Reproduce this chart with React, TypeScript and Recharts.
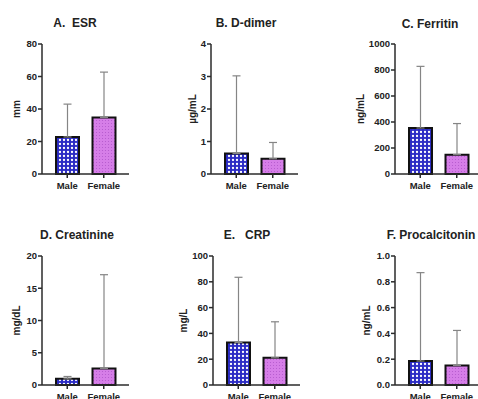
import React from "react"
import { BarChart, Bar, XAxis, YAxis, ErrorBar, Cell } from "recharts"

// values (mean and upper end of the error bar)
const groups = ["Male", "Female"]

const esrMean = [22.8, 34.8]
const esrUpper = [43, 62.7]
const esrTicks = [0, 20, 40, 60, 80]

const ddimerMean = [0.63, 0.47]
const ddimerUpper = [3.02, 0.97]
const ddimerTicks = [0, 1, 2, 3, 4]

const ferritinMean = [354, 149]
const ferritinUpper = [828, 388]
const ferritinTicks = [0, 200, 400, 600, 800, 1000]

const creatinineMean = [0.95, 2.55]
const creatinineUpper = [1.32, 17.1]
const creatinineTicks = [0, 5, 10, 15, 20]

const crpMean = [33, 21.1]
const crpUpper = [83.5, 49]
const crpTicks = [0, 20, 40, 60, 80, 100]

const pctMean = [0.186, 0.152]
const pctUpper = [0.871, 0.423]
const pctTicks = [0, 0.2, 0.4, 0.6, 0.8, 1.0]

const titles = ["A.  ESR", "B. D-dimer", "C. Ferritin", "D. Creatinine", "E.   CRP", "F. Procalcitonin"]
const units = ["mm", "µg/mL", "ng/mL", "mg/dL", "mg/L", "ng/mL"]

const FONT = "'Liberation Sans', Arial, sans-serif"
const AXIS = "#2b2b2b"
const Y_W = 40
const X_H = 28
const TOP_PAD = 6

type PanelProps = {
  id: string
  mean: number[]
  upper: number[]
  ticks: number[]
  decimals: number
  axisX: number
  plotTop: number
  zeroY: number
}

function Panel({ id, mean, upper, ticks, decimals, axisX, plotTop, zeroY }: PanelProps) {
  const data = groups.map((g, i) => ({
    group: g,
    mean: mean[i],
    err: [0, upper[i] - mean[i]],
  }))
  const plotH = zeroY - plotTop
  const width = Y_W + 87 + 4
  const height = plotH + TOP_PAD + X_H
  const tickStyle = { fill: "#222", fontSize: 9.5, fontWeight: 700, fontFamily: FONT }
  const line = { stroke: AXIS, strokeWidth: 1.5 }

  return (
    <div style={{ position: "absolute", left: axisX - Y_W, top: plotTop - TOP_PAD }}>
      <BarChart width={width} height={height} data={data} margin={{ top: TOP_PAD, right: 4, bottom: 0, left: 0 }}>
        <defs>
          <pattern id={`male-${id}`} width="4" height="4" patternUnits="userSpaceOnUse">
            <rect width="4" height="4" fill="#2a2ac4" />
            <circle cx="2" cy="2" r="1.15" fill="#ffffff" />
          </pattern>
          <pattern id={`female-${id}`} width="3" height="3" patternUnits="userSpaceOnUse">
            <rect width="3" height="3" fill="#d67ee8" />
            <circle cx="1.5" cy="1.5" r="0.55" fill="#b357cc" />
          </pattern>
        </defs>
        <XAxis
          xAxisId="main"
          dataKey="group"
          height={X_H}
          padding={{ left: 7, right: 7 }}
          axisLine={line}
          tickLine={line}
          tickSize={4}
          tickMargin={4}
          tick={tickStyle}
          interval={0}
        />
        <XAxis xAxisId="err" dataKey="group" orientation="top" hide padding={{ left: 7, right: 7 }} />
        <YAxis
          width={Y_W}
          domain={[0, ticks[ticks.length - 1]]}
          ticks={ticks}
          interval={0}
          axisLine={line}
          tickLine={line}
          tickSize={4}
          tickMargin={1}
          tick={tickStyle}
          tickFormatter={(v: number) => v.toFixed(decimals)}
        />
        {/* drawn first so the bar covers the lower end of the whisker */}
        <Bar xAxisId="err" dataKey="mean" barSize={23} fill="transparent" isAnimationActive={false}>
          <ErrorBar dataKey="err" width={4} stroke="#858585" strokeWidth={1.2} direction="y" />
        </Bar>
        <Bar xAxisId="main" dataKey="mean" barSize={23} stroke="#111" strokeWidth={2} isAnimationActive={false}>
          {data.map((d, i) => (
            <Cell key={d.group} fill={i === 0 ? `url(#male-${id})` : `url(#female-${id})`} />
          ))}
        </Bar>
      </BarChart>
    </div>
  )
}

// per panel: axis x, label x, title centre
const axisXs = [42, 211, 395, 42, 213, 395]
const labelXs = [16, 192, 360, 16, 183, 366]
const titleXs = [75, 246, 430, 77, 247, 431]
const rowTop = [44, 44, 44, 256, 256, 256]
const rowZero = [174, 174, 174, 385, 385, 385]
const titleYs = [27, 27, 28, 239, 239, 239]

export default function App() {
  const means = [esrMean, ddimerMean, ferritinMean, creatinineMean, crpMean, pctMean]
  const uppers = [esrUpper, ddimerUpper, ferritinUpper, creatinineUpper, crpUpper, pctUpper]
  const tickSets = [esrTicks, ddimerTicks, ferritinTicks, creatinineTicks, crpTicks, pctTicks]
  const decimals = [0, 0, 0, 0, 0, 1]

  return (
    <div
      style={{
        position: "absolute",
        left: 0,
        top: 0,
        width: 478,
        height: 399,
        overflow: "hidden",
        background: "#fff",
        fontFamily: FONT,
      }}
    >
      {means.map((m, i) => (
        <Panel
          key={i}
          id={String(i)}
          mean={m}
          upper={uppers[i]}
          ticks={tickSets[i]}
          decimals={decimals[i]}
          axisX={axisXs[i]}
          plotTop={rowTop[i]}
          zeroY={rowZero[i]}
        />
      ))}
      <svg width={478} height={399} style={{ position: "absolute", left: 0, top: 0, pointerEvents: "none" }}>
        {titles.map((t, i) => (
          <text
            key={t}
            x={titleXs[i]}
            y={titleYs[i]}
            textAnchor="middle"
            fontSize={12}
            fontWeight={700}
            fill="#222"
            style={{ whiteSpace: "pre", fontFamily: FONT }}
          >
            {t}
          </text>
        ))}
        {units.map((u, i) => {
          const cy = (rowTop[i] + rowZero[i]) / 2
          return (
            <text
              key={i}
              x={labelXs[i]}
              y={cy}
              dy="0.35em"
              transform={`rotate(-90 ${labelXs[i]} ${cy})`}
              textAnchor="middle"
              fontSize={10}
              fontWeight={700}
              fill="#222"
              style={{ fontFamily: FONT }}
            >
              {u}
            </text>
          )
        })}
      </svg>
    </div>
  )
}
